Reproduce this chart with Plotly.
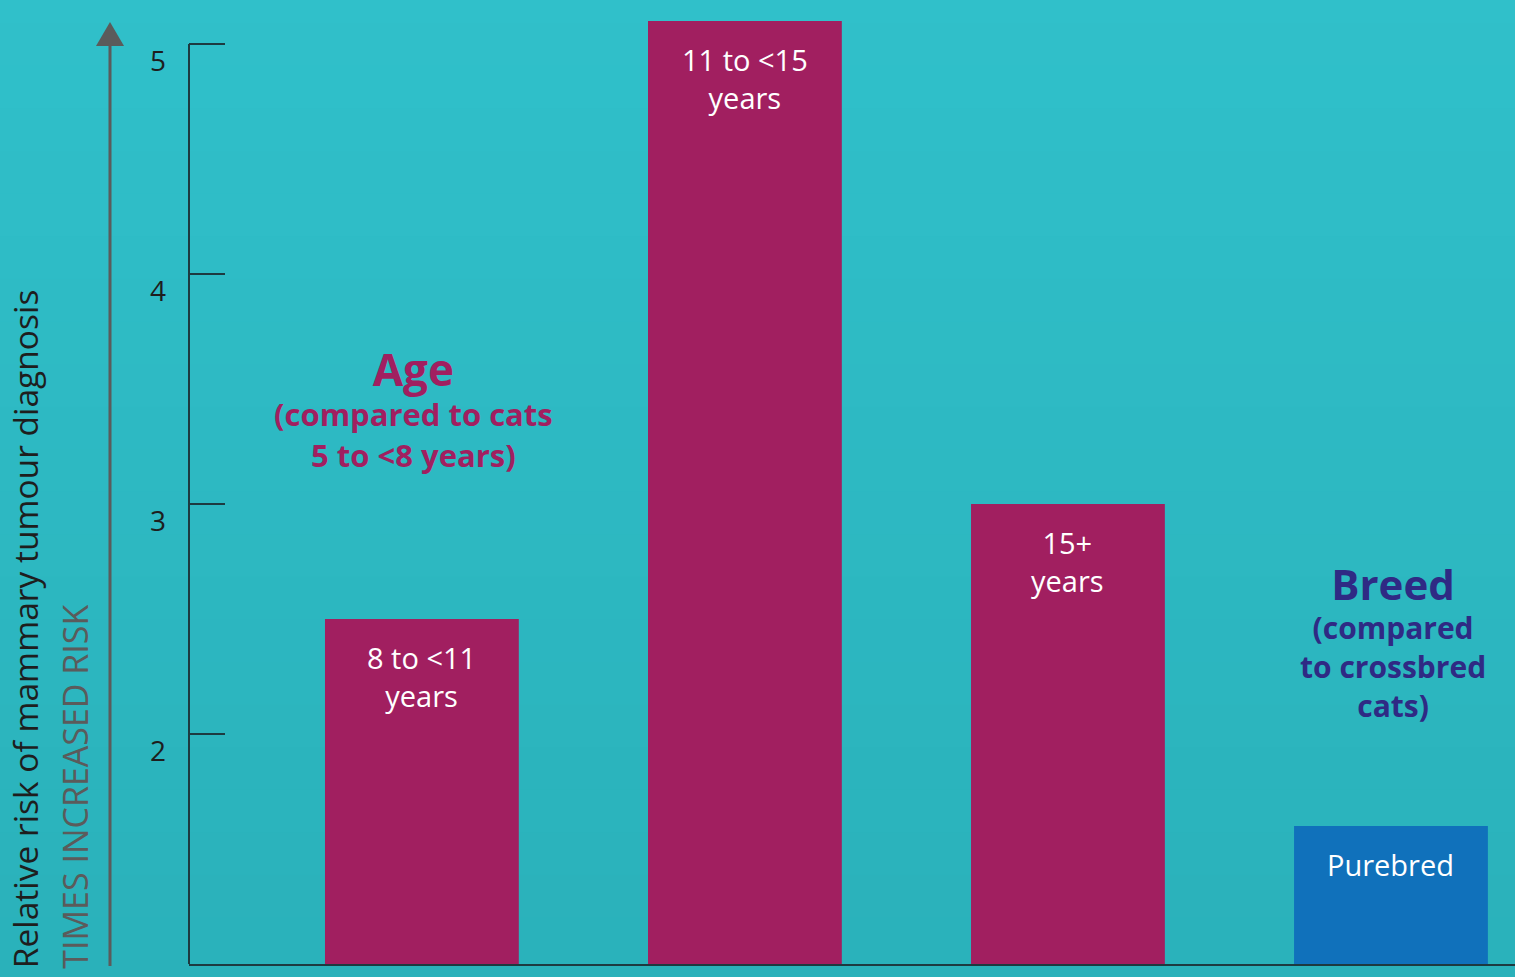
import plotly.graph_objects as go

# ---- data ----
categories = ["8 to <11 years", "11 to <15 years", "15+ years", "Purebred"]
relative_risk = [2.5, 5.1, 3.0, 1.6]
bar_labels = ["8 to <11<br>years", "11 to <15<br>years", "15+<br>years", "Purebred"]
tick_values = [1, 2, 3, 4, 5]
tick_labels = ["1", "2", "3", "4", "5"]

AGE_COLOR = "#A11F60"
BREED_COLOR = "#1071BB"
BREED_TEXT = "#2F2A84"
AXIS_COLOR = "#1D3A40"
FONT = "Open Sans"

bar_colors = [AGE_COLOR, AGE_COLOR, AGE_COLOR, BREED_COLOR]

fig = go.Figure()
fig.add_trace(go.Bar(
    x=categories, y=relative_risk, width=0.6,
    marker=dict(color=bar_colors, line=dict(width=0)),
    hoverinfo="x+y",
))

# background gradient bands
shapes = []
n = 24
top = (48, 192, 202)
bot = (42, 177, 186)
for i in range(n):
    t = i / (n - 1)
    c = tuple(round(top[k] + (bot[k] - top[k]) * t) for k in range(3))
    y1 = 1.02 - i * (1.06 / n)
    y0 = y1 - 1.06 / n - 0.002
    shapes.append(dict(type="rect", xref="paper", yref="paper",
                       x0=-0.2, x1=1.05, y0=y0, y1=y1,
                       fillcolor="rgb(%d,%d,%d)" % c, line=dict(width=0),
                       layer="below"))

# left axis line from 1 to 5
shapes.append(dict(type="line", xref="paper", yref="y", x0=0, x1=0, y0=1, y1=5,
                   line=dict(color=AXIS_COLOR, width=2)))
# arrow
arrow_x = (110 - 189) / 1326
shapes.append(dict(type="line", xref="paper", yref="paper",
                   x0=arrow_x, x1=arrow_x, y0=-0.002, y1=0.955,
                   line=dict(color="#5B5B5B", width=3)))
tri_top = (964 - 22) / 964
tri_bot = (964 - 46) / 964
hw = 14 / 1326
shapes.append(dict(type="path", xref="paper", yref="paper",
                   path="M %f %f L %f %f L %f %f Z" % (arrow_x - hw, tri_bot, arrow_x, tri_top, arrow_x + hw, tri_bot),
                   fillcolor="#5B5B5B", line=dict(width=0)))

annotations = []
for i, cat in enumerate(categories):
    annotations.append(dict(x=cat, y=relative_risk[i], xref="x", yref="y",
                            text=bar_labels[i], showarrow=False,
                            xanchor="center", yanchor="top",
                            yshift=-17, font=dict(family=FONT, size=29, color="white")))

# group headings
annotations.append(dict(
    x=(413 - 189) / 1326, y=(964 - 407) / 964, xref="paper", yref="paper",
    text="<span style='font-size:44px'><b>Age</b></span><br><b>(compared to cats</b><br><b>5 to <8 years)</b>",
    showarrow=False, xanchor="center", yanchor="middle", align="center",
    font=dict(family=FONT, size=31, color=AGE_COLOR)))
annotations.append(dict(
    x=(1393 - 189) / 1326, y=(964 - 640) / 964, xref="paper", yref="paper",
    text="<span style='font-size:42px'><b>Breed</b></span><br><b>(compared</b><br><b>to crossbred</b><br><b>cats)</b>",
    showarrow=False, xanchor="center", yanchor="middle", align="center",
    font=dict(family=FONT, size=30, color=BREED_TEXT)))

# axis titles
annotations.append(dict(x=(25 - 189) / 1326, y=-0.007, xref="paper", yref="paper",
                        text="Relative risk of mammary tumour diagnosis", textangle=-90,
                        showarrow=False, xanchor="center", yanchor="bottom",
                        font=dict(family=FONT, size=33.5, color="#1E1E1E")))
annotations.append(dict(x=(75 - 189) / 1326, y=-0.007, xref="paper", yref="paper",
                        text="TIMES INCREASED RISK", textangle=-90,
                        showarrow=False, xanchor="center", yanchor="bottom",
                        font=dict(family=FONT, size=34, color="#5B5B5B")))

fig.update_layout(
    width=1515, height=977,
    margin=dict(l=189, r=0, t=0, b=13),
    paper_bgcolor="#2DB9C3", plot_bgcolor="rgba(0,0,0,0)",
    showlegend=False, bargap=0.4,
    shapes=shapes, annotations=annotations,
    xaxis=dict(range=[-0.721, 3.384], showline=True, linecolor=AXIS_COLOR, linewidth=2,
               showticklabels=False, ticks="", showgrid=False, zeroline=False, fixedrange=True),
    yaxis=dict(range=[1, 1 + 964 / 230], tickvals=tick_values, ticktext=tick_labels,
               ticks="inside", ticklen=36, tickwidth=1.5, tickcolor=AXIS_COLOR,
               ticklabelstandoff=22, ticklabelshift=17,
               tickfont=dict(family=FONT, size=28, color="#1E1E1E"),
               showline=False, showgrid=False, zeroline=False, fixedrange=True),
)

fig.write_html("out.html", config={"displayModeBar": False},
               post_script="document.body.style.margin='0';document.body.style.overflow='hidden';")
